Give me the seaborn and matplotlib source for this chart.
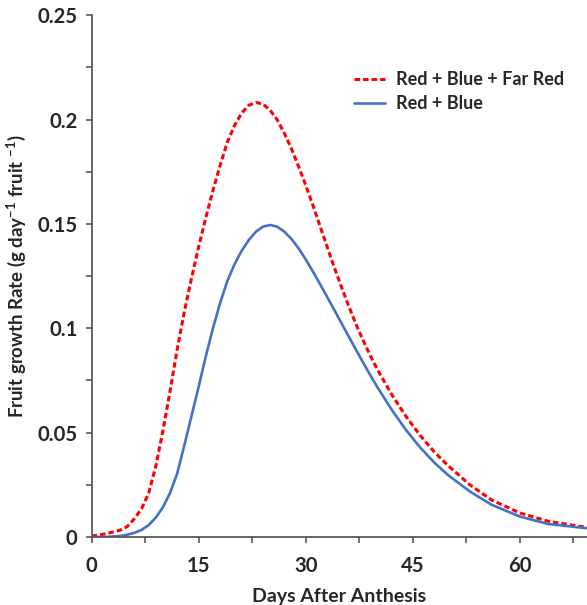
import numpy as np
import pandas as pd
import matplotlib
matplotlib.use("Agg")
import matplotlib.pyplot as plt
from matplotlib.ticker import MultipleLocator
import seaborn as sns

# valores (dias após antese)
dias = [0, 2, 4, 5, 6, 7, 8, 9, 10, 11, 12, 13, 14, 15, 16, 17, 18, 19, 20, 21,
        22, 23, 24, 25, 26, 27, 28, 29, 30, 31, 32, 33, 34, 35, 36, 37, 38, 39,
        40, 42, 44, 46, 48, 50, 53, 56, 60, 64, 69.4]
taxa_rb_fr = [0.0005, 0.0015, 0.0033, 0.0050, 0.0088, 0.0135, 0.021, 0.034,
              0.051, 0.070, 0.090, 0.108, 0.124, 0.139, 0.153, 0.166, 0.178, 0.189,
              0.197, 0.203, 0.2068, 0.2082, 0.2075, 0.2045, 0.2000, 0.1935, 0.186,
              0.1775, 0.1685, 0.1590, 0.1490, 0.1390, 0.1292, 0.1198, 0.1108,
              0.1023, 0.0945, 0.0872, 0.0805, 0.0685, 0.0580, 0.0488, 0.0408,
              0.0340, 0.0250, 0.0178, 0.0115, 0.0075, 0.0046]
taxa_rb = [0.0, 0.0, 0.0005, 0.0011, 0.0020, 0.0034, 0.0057, 0.0093, 0.0143,
           0.0212, 0.0305, 0.044, 0.058, 0.072, 0.0865, 0.100, 0.112, 0.1225,
           0.1305, 0.1370, 0.1422, 0.1462, 0.1487, 0.1495, 0.1487, 0.1463, 0.1428,
           0.1383, 0.1330, 0.1272, 0.1212, 0.1150, 0.1088, 0.1025, 0.0962, 0.0900,
           0.0838, 0.0778, 0.0720, 0.0612, 0.0515, 0.0430, 0.0357, 0.0295, 0.0218,
           0.0155, 0.0098, 0.0062, 0.0042]
rotulos = ["Red + Blue + Far Red", "Red + Blue"]

sns.set_style("ticks")
plt.rcParams['font.family'] = ['Lato', 'DejaVu Sans']
plt.rcParams['font.weight'] = 'bold'
plt.rcParams['mathtext.fontset'] = 'custom'
plt.rcParams['mathtext.rm'] = 'Lato:bold'
plt.rcParams['mathtext.default'] = 'rm'

fig = plt.figure(figsize=(5.87, 6.05), dpi=100)
ax = fig.add_axes([0.156, 0.1124, 0.844, 0.8624])

sns.lineplot(x=dias, y=taxa_rb_fr, ax=ax, color='#FF0000', linewidth=2.2,
             linestyle=(0, (1.8, 1.0)), label=rotulos[0])
sns.lineplot(x=dias, y=taxa_rb, ax=ax, color='#4472C4', linewidth=1.9,
             label=rotulos[1])

ax.set_xlim(0, 69.4)
ax.set_ylim(0, 0.25)
ax.xaxis.set_major_locator(MultipleLocator(15))
ax.xaxis.set_minor_locator(MultipleLocator(7.5))
ax.yaxis.set_minor_locator(MultipleLocator(0.025))
ax.set_yticks([0, 0.05, 0.1, 0.15, 0.2, 0.25])
ax.set_yticklabels(["0", "0.05", "0.1", "0.15", "0.2", "0.25"])

for lado in ['top', 'right']:
    ax.spines[lado].set_visible(False)
for lado in ['left', 'bottom']:
    ax.spines[lado].set_color('#595959')
    ax.spines[lado].set_linewidth(1.3)
ax.tick_params(which='both', direction='out', length=4, width=1.2, color='#595959')
ax.tick_params(which='major', labelsize=14.6)
ax.tick_params(axis='y', which='major', pad=6)
ax.tick_params(axis='x', which='major', pad=10)
for t in ax.get_xticklabels() + ax.get_yticklabels():
    t.set_fontweight('bold')

ax.set_xlabel('Days After Anthesis', fontsize=14, fontweight='bold', labelpad=8)
ax.set_ylabel('Fruit growth Rate (g day$^{-1}$ fruit $^{-1}$)', fontsize=13.4,
              fontweight='bold', labelpad=7)

ax.legend(loc='upper left', bbox_to_anchor=(0.53, 0.893), frameon=False,
          handlelength=1.7, handletextpad=0.6, borderpad=0,
          borderaxespad=0, labelspacing=0.4, prop={'weight': 'bold', 'size': 13})

fig.savefig('out.png', dpi=100)
